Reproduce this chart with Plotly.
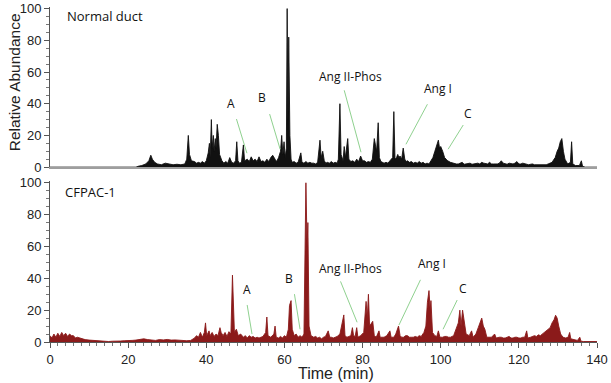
import plotly.graph_objects as go

# ---------------- data ----------------
normal_time = [0, 22, 22.5, 23.5, 24.5, 25.3, 25.8, 26.2, 26.8, 27.5, 28.5, 29.5, 30.5, 31.5, 32.5, 33.5, 34.5,
               35.0, 35.4, 35.7, 36.2, 37, 37.5, 38, 38.5, 39, 39.5, 40, 40.5, 40.8, 41.0, 41.3, 41.5, 41.8, 42.0,
               42.3, 42.5, 42.8, 43.1, 43.4, 44, 44.5, 45, 45.5, 46, 46.5, 47, 47.5, 47.8, 48.1, 48.5, 49, 49.5,
               49.8, 50.5, 51, 51.5, 52, 52.5, 53, 53.5, 54, 54.5, 55, 55.5, 56, 56.5, 57, 57.6, 58, 58.5, 59.0,
               59.3, 59.6, 59.9, 60.2, 60.5, 60.7, 60.9, 61.1, 61.4, 61.7, 62, 62.5, 63, 63.5, 64.2, 64.5, 65,
               65.5, 66, 66.5, 67, 67.5, 68, 68.5, 69.1, 69.4, 69.8, 70.2, 70.6, 71, 71.5, 72, 72.5, 73, 73.5,
               73.8, 74.2, 74.5, 75, 75.3, 75.6, 76.2, 76.5, 77, 77.5, 78, 78.5, 79, 79.5, 80, 80.5, 81, 81.5,
               82, 82.5, 83.0, 83.3, 83.6, 84.0, 84.3, 84.7, 85, 85.5, 86, 86.5, 87, 87.7, 88.0, 88.3, 88.7,
               89.0, 89.3, 89.6, 90.0, 90.4, 90.8, 91.2, 91.5, 92, 92.5, 93, 93.5, 94, 94.5, 95, 95.5, 96, 96.5,
               97, 97.5, 98, 98.5, 99.0, 99.4, 99.7, 100.0, 100.5, 101.0, 101.4, 101.8, 102.5, 103, 103.5, 104,
               104.5, 105, 105.5, 106, 106.5, 107, 107.5, 108, 108.5, 109, 109.5, 110, 110.5, 111, 111.5, 112,
               112.5, 113, 113.5, 114, 114.5, 115, 115.5, 116, 116.5, 117, 117.5, 118, 118.5, 119, 119.5, 120,
               120.5, 121, 121.5, 122, 122.5, 123, 123.5, 124, 124.5, 125, 125.5, 126, 126.5, 127, 127.5, 128,
               128.5, 129.0, 129.3, 129.8, 130.2, 130.6, 131.0, 131.4, 131.8, 132.5, 133.2, 133.5, 133.8, 134.5,
               135.5, 136.0, 136.3, 137, 140]
normal_abund = [0, 0, 0.5, 1, 2, 4, 7.5, 5, 3, 2, 1.5, 2.5, 2, 1.5, 1.8, 1.5, 2,
                5, 20, 8, 4, 3.5, 2.5, 3, 2.5, 3.5, 2.5, 4, 9, 15, 6, 30, 12, 20, 10,
                18, 12, 27, 20, 8, 4, 2.5, 3.5, 2.5, 6, 3, 2.5, 4, 16, 4, 2.5, 3, 14,
                4, 5, 3.5, 6.5, 4, 5, 3.5, 6.5, 3.5, 4, 3, 5, 3.5, 6, 7.5, 5, 3.5, 6, 10,
                20, 8, 16, 6, 12, 100, 30, 82, 20, 5, 3, 3.5, 2.5, 3, 9, 3, 2.5,
                3.5, 2.5, 3, 2.5, 2.5, 2, 3, 17, 6, 10, 4, 2.5, 3, 2.5, 3.5, 2.5, 3, 2.5,
                5, 40, 8, 4, 13, 6, 18, 5, 3.5, 4, 3, 5, 3.5, 7, 4, 4, 3, 3.5,
                3, 5, 18, 14, 10, 28, 6, 3.5, 3, 2.5, 3, 2.5, 4, 6, 35, 5, 6,
                8, 6, 7, 5, 12, 5, 3.5, 4, 3, 3.5, 2.5, 3, 2.5, 3.5, 2.5, 3, 2, 2.5,
                2, 4, 6, 10, 14, 17, 12, 13, 10, 6, 5, 4, 3, 2.5, 2.5, 2,
                2, 2.5, 3, 1.8, 2, 2.5, 2.5, 1.8, 2, 2.5, 2.5, 2, 3, 2.5, 2, 2,
                3, 2, 2, 1.8, 2, 2.5, 4, 2.5, 2, 1.8, 2.5, 2, 2, 2.5, 3.5, 2,
                2, 2.5, 2, 1.8, 1.5, 1.8, 2, 1.5, 1.5, 1.5, 1.5, 1.5, 1.5, 1.5, 2, 2.5,
                3, 5, 6, 10, 12, 16, 18, 10, 5, 2, 3, 16, 2, 1,
                1, 4, 0.5, 0, 0]

cfpac_time = [0, 0.5, 1.0, 1.5, 2.0, 2.5, 3.0, 3.5, 4.0, 4.5, 5.0, 5.5, 6.0, 6.5, 7.0, 8, 9, 10, 11, 12, 13,
              14, 15, 16, 17, 18, 19, 20, 21, 22, 23, 24, 25, 26, 27, 28, 29, 30, 31, 32, 33, 34, 35, 36, 37,
              37.5, 38, 38.5, 39, 39.5, 39.8, 40.1, 40.7, 41, 41.5, 42, 42.5, 43, 43.5, 43.8, 44.3, 44.8, 45.3,
              45.8, 46.3, 46.7, 46.9, 47.2, 47.7, 48.2, 48.8, 49.5, 50, 50.5, 51, 51.5, 52, 52.5, 53, 53.5, 54,
              54.5, 55.2, 55.5, 55.8, 56.5, 57.3, 57.6, 57.9, 58.5, 59, 59.5, 60.0, 60.5, 61.0, 61.3, 61.7, 62.0,
              62.5, 63, 63.5, 64, 64.5, 65.0, 65.5, 65.8, 66.0, 66.3, 66.8, 67.5, 68, 68.5, 69, 69.5, 70, 70.5,
              71.2, 71.6, 72, 72.5, 73, 73.5, 74.2, 74.6, 75.2, 75.5, 76, 76.5, 77.0, 77.4, 77.7, 78.1, 78.5,
              78.8, 79.5, 80.3, 80.6, 80.9, 81.2, 81.5, 81.8, 82.2, 82.6, 83, 83.5, 84.2, 84.5, 85, 85.5, 86.2,
              87.0, 87.3, 88, 88.5, 89.2, 89.6, 90, 90.5, 91, 91.5, 92, 92.5, 93, 93.5, 94, 94.5, 95, 95.7,
              96.2, 96.6, 97.0, 97.3, 97.5, 97.9, 98.5, 99, 99.4, 99.8, 100.5, 101, 101.5, 102, 102.5, 103.3,
              104.0, 104.5, 104.9, 105.2, 105.6, 106.0, 106.5, 107.3, 107.9, 108.3, 109.0, 109.6, 110.1, 110.5,
              110.9, 111.3, 111.8, 112.5, 113, 113.8, 114.2, 115, 115.5, 116, 116.5, 117, 117.5, 118, 118.5,
              119, 119.5, 120, 120.5, 121, 121.5, 122.0, 122.3, 123, 123.5, 124, 124.5, 125, 125.5, 126, 126.5,
              127, 127.5, 128, 128.5, 129.0, 129.4, 129.8, 130.2, 130.7, 131.3, 132.0, 132.6, 133.0, 133.3,
              134, 135.0, 135.6, 135.9, 136.5, 140]
cfpac_abund = [4, 2.5, 5, 3, 5.5, 3.5, 6, 4, 5.5, 3.5, 5, 4, 4, 2.5, 3, 2, 1.5, 1.2, 1, 0.6, 0.4,
               0.5, 0.3, 0.5, 0.4, 0.6, 0.8, 0.7, 1, 1.2, 1.5, 2, 1.5, 1.2, 1, 1.5, 1.3, 1.6, 1.2, 1.3, 1, 0.8, 0.8, 1, 2.5,
               4, 3, 6, 3, 6, 12, 4, 7, 4, 6, 3.5, 5, 4, 9, 6, 4, 6, 3.5,
               6.5, 5, 42, 20, 6, 8, 4, 5, 3, 4, 2.5, 4, 3, 3.5, 2.5, 3, 2.5, 3,
               3.5, 6, 15.7, 4, 3, 5, 10, 3, 2.5, 3.5, 2.5, 4, 3, 8, 23, 26, 8,
               4, 5, 3, 4, 3, 5, 100, 60, 75, 10, 4, 3, 3.5, 2.5, 3, 2, 3, 3.5,
               7, 3, 3, 2.5, 3, 3.5, 5, 10, 17, 4, 3, 3.5, 4, 9, 4, 3.5, 9,
               3, 4, 6, 20, 25.5, 15, 30, 10, 12, 13, 4, 3, 7, 3, 3, 3, 4,
               7, 3, 3, 5, 10, 4, 3, 3, 4, 4, 3, 3, 3, 3.5, 3, 4, 3.5, 6,
               10, 25, 32.3, 20, 26, 6, 4, 3.5, 7, 3, 3, 3.5, 3.5, 3, 3, 4,
               8, 12, 20, 10, 20, 14, 5, 4, 7, 3, 5, 9, 12, 15,
               10, 8, 3, 3, 3, 5, 2.5, 3, 3, 2.5, 2.5, 3, 3.5, 2.5, 2.5,
               3, 3, 2.5, 2.5, 3, 3, 7, 2.5, 3, 3.5, 4, 3.5, 4.5, 4, 5, 6,
               7, 8, 9, 12, 14, 16.8, 15, 10, 5, 3, 2.5, 3, 6, 2,
               1.5, 1, 3, 0.5, 0.3, 0.3]

x_ticks = [0, 20, 40, 60, 80, 100, 120, 140]
y_ticks = [0, 20, 40, 60, 80, 100]

# labels: (text, text_x, text_y, line_start_x, line_start_y, line_end_x, line_end_y)
normal_labels = [
    ("A", 46.3, 40, 47.6, 31.3, 50.4, 8.8),
    ("B", 54.3, 43.8, 56.1, 34.4, 58.9, 11.3),
    ("Ang II-Phos", 77.0, 57, 75.2, 49.4, 79.6, 9.4),
    ("Ang I", 99.3, 49.4, 96.8, 40.6, 91.1, 14.4),
    ("C", 107.0, 33.7, 106.0, 27.5, 101.9, 11.3),
]
cfpac_labels = [
    ("A", 50.4, 32.9, 50.4, 24.2, 51.7, 5),
    ("B", 61.2, 39.8, 62.5, 31, 64.0, 8),
    ("Ang II-Phos", 77.0, 46, 74.2, 39, 78.6, 12.4),
    ("Ang I", 97.8, 49, 95.0, 40, 89.3, 10.6),
    ("C", 105.7, 33.5, 104.4, 27.3, 100.6, 8),
]

# ---------------- figure ----------------
fig = go.Figure()
fig.add_trace(go.Scatter(x=normal_time, y=normal_abund, mode="lines", fill="tozeroy",
                         line=dict(color="#111111", width=0.9), fillcolor="#111111",
                         xaxis="x", yaxis="y", showlegend=False))
fig.add_trace(go.Scatter(x=cfpac_time, y=cfpac_abund, mode="lines", fill="tozeroy",
                         line=dict(color="#8b1a1a", width=0.9), fillcolor="#8b1a1a",
                         xaxis="x2", yaxis="y2", showlegend=False))

tickfont = dict(family="Liberation Sans, Arial, sans-serif", size=13, color="#222")
labfont = dict(family="Open Sans, sans-serif", size=12, color="#111")
titlefont = dict(family="Liberation Sans, Arial, sans-serif", size=16, color="#222")

yax_common = dict(range=[0, 101], tickvals=y_ticks, ticks="outside", ticklen=5, tickwidth=1,
                  tickcolor="#555", showline=True, linecolor="#555", linewidth=1,
                  showgrid=False, zeroline=False, tickfont=tickfont, automargin=False,
                  minor=dict(dtick=5, ticks="outside", ticklen=3, tickcolor="#777", showgrid=False))

fig.update_layout(
    width=611, height=383,
    margin=dict(l=50, r=14, t=7, b=41, autoexpand=False),
    paper_bgcolor="white", plot_bgcolor="white",
    xaxis=dict(domain=[0, 1], range=[0, 140], anchor="y", showticklabels=False, ticks="",
               automargin=False,
               showline=True, linecolor="#9e9e9e", linewidth=2, showgrid=False, zeroline=False),
    yaxis=dict(domain=[0.522, 1.0], anchor="x", **yax_common),
    xaxis2=dict(domain=[0, 1], range=[0, 140], anchor="y2", tickvals=x_ticks, ticks="outside", ticklen=5,
                tickcolor="#555", showline=True, linecolor="#555", linewidth=1, showgrid=False, zeroline=False,
                tickfont=tickfont, automargin=False,
                minor=dict(dtick=2, ticks="outside", ticklen=3, tickcolor="#777", showgrid=False)),
    yaxis2=dict(domain=[0, 0.48], anchor="x2", **yax_common),
)

anns = []
anns.append(dict(text="Relative Abundance", x=0, xref="paper", xshift=-36, y=53.5, yref="y",
                 textangle=-90, showarrow=False, xanchor="center", yanchor="middle",
                 font=dict(family="Liberation Sans, Arial, sans-serif", size=15.5, color="#222")))
anns.append(dict(text="Time (min)", x=73.1, xref="x2", y=0, yref="paper", yshift=-31,
                 showarrow=False, xanchor="center", yanchor="middle", font=titlefont))
anns.append(dict(text="Normal duct", x=3.8, y=95.5, xref="x", yref="y", xanchor="left", yanchor="middle",
                 showarrow=False, font=dict(family="Open Sans, sans-serif", size=13, color="#111")))
anns.append(dict(text="CFPAC-1", x=3.4, y=94.5, xref="x2", yref="y2", xanchor="left", yanchor="middle",
                 showarrow=False, font=dict(family="Open Sans, sans-serif", size=13, color="#111")))
for labels, xr, yr in ((normal_labels, "x", "y"), (cfpac_labels, "x2", "y2")):
    for txt, tx, ty, sx, sy, ex, ey in labels:
        anns.append(dict(text=txt, x=tx, y=ty, xref=xr, yref=yr, showarrow=False,
                         xanchor="center", yanchor="middle", font=labfont))
        anns.append(dict(text="", x=ex, y=ey, ax=sx, ay=sy, xref=xr, yref=yr, axref=xr, ayref=yr,
                         showarrow=True, arrowhead=0, arrowwidth=1, arrowcolor="#8fd18f"))
fig.update_layout(annotations=anns)

# remove the browser's default 8px body margin so the figure fills the window exactly
fig.write_html("out.html", config={"displayModeBar": False},
               post_script="document.body.style.margin='0';document.body.style.overflow='hidden';")
